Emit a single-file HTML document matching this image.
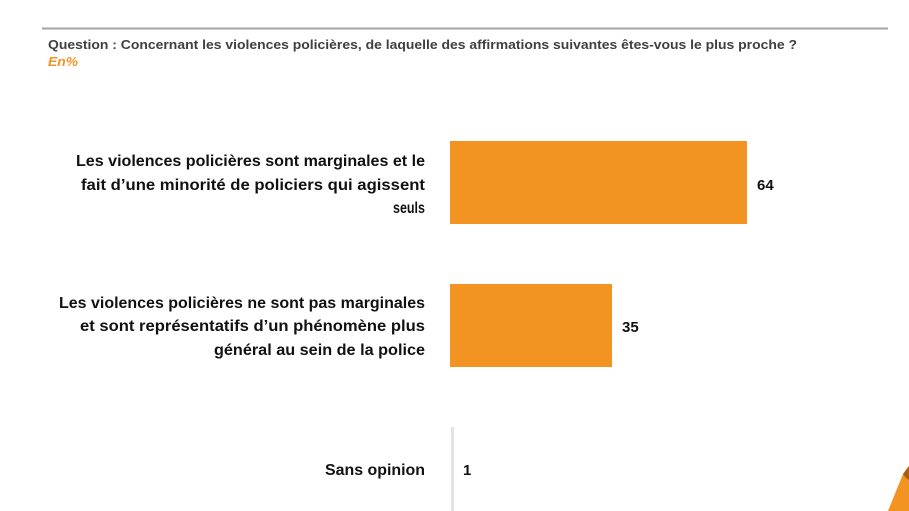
<!DOCTYPE html>
<html><head><meta charset="utf-8"><style>
html,body{margin:0;padding:0;background:#fff;}
svg{display:block;}
text{font-family:"Liberation Sans",sans-serif;font-weight:bold;}
</style></head><body>
<svg width="909" height="511" viewBox="0 0 909 511" xmlns="http://www.w3.org/2000/svg">
<rect width="909" height="511" fill="#fff"/>
<line x1="42" y1="28.5" x2="888" y2="28.5" stroke="#a6a6a6" stroke-width="2"/>
<text x="48" y="49" font-size="13" fill="#404040" textLength="749" lengthAdjust="spacingAndGlyphs">Question : Concernant les violences policières, de laquelle des affirmations suivantes êtes-vous le plus proche ?</text>
<text x="48" y="66" font-size="13" fill="#f39322" font-style="italic" textLength="30" lengthAdjust="spacingAndGlyphs">En%</text>
<line x1="452.5" y1="427" x2="452.5" y2="511" stroke="#e3e3e3" stroke-width="3"/>
<rect x="450" y="141" width="297" height="83" fill="#f39322"/>
<rect x="450" y="284" width="162" height="83" fill="#f39322"/>
<g font-size="16" fill="#111" text-anchor="end">
<text x="425" y="166" textLength="349" lengthAdjust="spacingAndGlyphs">Les violences policières sont marginales et le</text>
<text x="425" y="190" textLength="344" lengthAdjust="spacingAndGlyphs">fait d’une minorité de policiers qui agissent</text>
<text x="425" y="213" textLength="32" lengthAdjust="spacingAndGlyphs">seuls</text>
<text x="425" y="308" textLength="366" lengthAdjust="spacingAndGlyphs">Les violences policières ne sont pas marginales</text>
<text x="425" y="331" textLength="345" lengthAdjust="spacingAndGlyphs">et sont représentatifs d’un phénomène plus</text>
<text x="425" y="355" textLength="211" lengthAdjust="spacingAndGlyphs">général au sein de la police</text>
<text x="425" y="475" textLength="100" lengthAdjust="spacingAndGlyphs">Sans opinion</text>
</g>
<g font-size="15" fill="#111">
<text x="757" y="190">64</text>
<text x="622" y="332">35</text>
<text x="463" y="475">1</text>
</g>
<polygon points="909,466 909,511 888,511 903,474" fill="#f39322"/>
<polygon points="903,474 909,466 909,480 906,478" fill="#a8600e"/>
</svg>
</body></html>
